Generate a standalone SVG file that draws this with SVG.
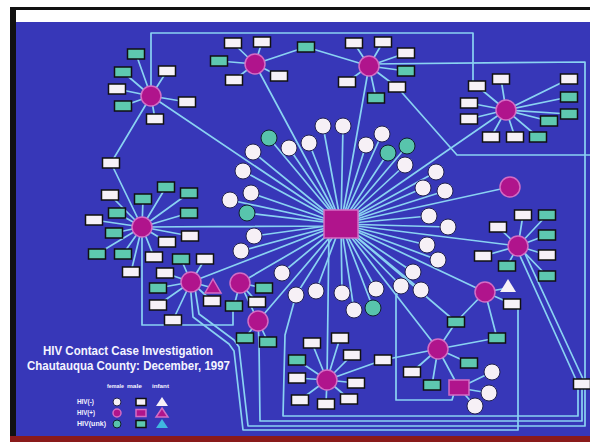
<svg xmlns="http://www.w3.org/2000/svg" width="590" height="442" viewBox="0 0 590 442">
<style>
.ln{fill:none;stroke:#8ad2f2;stroke-width:1.7;stroke-linejoin:round}
.w{fill:#f6f1f7;stroke:#111;stroke-width:1.5}
.t{fill:#5ec8b0;stroke:#111;stroke-width:1.5}
.cw{fill:#f6f0f6;stroke:#222250;stroke-width:1}
.ct{fill:#58c4ac;stroke:#102030;stroke-width:1}
.h{fill:#b0148c;stroke:#d46cc4;stroke-width:1.5}
.tx{font-family:"Liberation Sans",Arial,sans-serif;font-weight:bold;fill:#f4f4ff}
</style>
<defs>
<rect id="R" x="-8.5" y="-5" width="17" height="10"/>
<circle id="C" r="8"/>
<circle id="Hc" r="10"/>
</defs>
<rect x="0" y="0" width="590" height="442" fill="#fff"/>
<rect x="10" y="7" width="580" height="3" fill="#111"/>
<rect x="10" y="7" width="6" height="435" fill="#111"/>
<rect x="16" y="22" width="574" height="414" fill="#3737b8"/>
<rect x="10" y="436" width="580" height="6" fill="#8a1a1a"/>
<g id="connectors" class="ln">
<path d="M341,224L269,138M341,224L253,152M341,224L289,148M341,224L309,143M341,224L323,126M341,224L343,126M341,224L366,145M341,224L382,134M341,224L388,153M341,224L407,146M341,224L405,165M341,224L436,172M341,224L423,188M341,224L445,191M341,224L243,171M341,224L251,193M341,224L230,200M341,224L247,213M341,224L254,236M341,224L241,251M341,224L429,216M341,224L448,227M341,224L427,245M341,224L438,260M341,224L413,272M341,224L282,273M341,224L401,286M341,224L421,290M341,224L376,289M341,224L316,291M341,224L342,293M341,224L296,295M341,224L354,310M341,224L373,308"/>
<path d="M341,224L151,96M341,224L255,64M341,224L369,66M341,224L506,110M341,224L510,187M341,226L142,227M341,224L518,246M341,224L191,282M341,224L240,283M341,224L258,321M341,224L485,292M341,224L438,349M341,224L456,322M329,230L327,380"/>
<path d="M151,96L136,54M151,96L123,72M151,96L117,89M151,96L123,106M151,96L167,71M151,96L187,102M151,96L155,119M151,96L111,163M111,163L142,227"/>
<path d="M255,64L233,43M255,64L262,42M255,64L219,61M255,64L234,80M255,64L279,76M255,64L306,47M306,47L369,66"/>
<path d="M369,66L354,43M369,66L383,42M369,66L406,53M369,66L406,71M369,66L397,87M369,66L376,98M369,66L347,82"/>
<path d="M506,110L477,86M506,110L501,79M506,110L469,103M506,110L469,119M506,110L491,137M506,110L515,137M506,110L538,137M506,110L549,121M506,110L569,79M506,110L569,97M506,110L569,114"/>
<path d="M142,227L110,195M142,227L143,199M142,227L166,187M142,227L189,193M142,227L189,213M142,227L117,213M142,227L94,220M142,227L114,233M142,227L190,236M142,227L167,242M142,227L97,254M142,227L123,254M142,227L154,257M142,227L131,272"/>
<path d="M191,282L181,259M191,282L205,259M191,282L165,273M191,282L158,288M191,282L158,305M191,282L173,320M191,282L212,301M191,282L213,288"/>
<path d="M240,283L264,288M240,283L257,302M240,283L234,306M240,283L258,321M258,321L245,338M258,321L268,342"/>
<path d="M518,246L523,215M518,246L547,215M518,246L498,227M518,246L547,235M518,246L483,256M518,246L547,255M518,246L507,266M518,246L547,276"/>
<path d="M485,292L508,288M485,292L512,304M485,292L456,322M485,292L497,338"/>
<path d="M438,349L456,322M438,349L497,338M438,349L383,360M438,349L412,372M438,349L432,385M438,349L469,363M438,349L459,388M327,380L383,360"/>
<path d="M327,380L312,343M327,380L340,338M327,380L352,355M327,380L297,360M327,380L297,378M327,380L356,383M327,380L349,399M327,380L326,404M327,380L300,400"/>
<path d="M459,388L492,372M459,388L489,393M459,388L475,406"/>
<path d="M151,96L151,33L473,33L473,86"/>
<path d="M369,64L585,62L585,426L248,426L239,347L234,340L199,314L194,282"/>
<path d="M397,87L457,155L590,155"/>
<path d="M296,295L285,335L283,416L578,416L578,389"/>
<path d="M258,321L259,343L260,421L582,421L582,389"/>
<path d="M190,282L193,317L229,344L234,351L243,430L518,430L518,304"/>
<path d="M142,227L142,325L233,325L233,306"/>
<path d="M401,286L396,296L396,400L452,400L455,390"/>
<path d="M516,247L578,384M521,245L584,381"/>
</g>
<g id="center"><rect x="324" y="210" width="34" height="28" class="h" stroke-width="1"/></g>
<g id="c1"><use href="#C" class="ct" x="269" y="138"/></g>
<g id="c2"><use href="#C" class="cw" x="253" y="152"/></g>
<g id="c3"><use href="#C" class="cw" x="289" y="148"/></g>
<g id="c4"><use href="#C" class="cw" x="309" y="143"/></g>
<g id="c5"><use href="#C" class="cw" x="323" y="126"/></g>
<g id="c6"><use href="#C" class="cw" x="343" y="126"/></g>
<g id="c7"><use href="#C" class="cw" x="366" y="145"/></g>
<g id="c8"><use href="#C" class="cw" x="382" y="134"/></g>
<g id="c9"><use href="#C" class="ct" x="388" y="153"/></g>
<g id="c10"><use href="#C" class="ct" x="407" y="146"/></g>
<g id="c11"><use href="#C" class="cw" x="405" y="165"/></g>
<g id="c12"><use href="#C" class="cw" x="436" y="172"/></g>
<g id="c13"><use href="#C" class="cw" x="423" y="188"/></g>
<g id="c14"><use href="#C" class="cw" x="445" y="191"/></g>
<g id="c15"><use href="#C" class="cw" x="243" y="171"/></g>
<g id="c16"><use href="#C" class="cw" x="251" y="193"/></g>
<g id="c17"><use href="#C" class="cw" x="230" y="200"/></g>
<g id="c18"><use href="#C" class="ct" x="247" y="213"/></g>
<g id="c19"><use href="#C" class="cw" x="254" y="236"/></g>
<g id="c20"><use href="#C" class="cw" x="241" y="251"/></g>
<g id="c21"><use href="#C" class="cw" x="429" y="216"/></g>
<g id="c22"><use href="#C" class="cw" x="448" y="227"/></g>
<g id="c23"><use href="#C" class="cw" x="427" y="245"/></g>
<g id="c24"><use href="#C" class="cw" x="438" y="260"/></g>
<g id="c25"><use href="#C" class="cw" x="413" y="272"/></g>
<g id="c26"><use href="#C" class="cw" x="282" y="273"/></g>
<g id="c27"><use href="#C" class="cw" x="401" y="286"/></g>
<g id="c28"><use href="#C" class="cw" x="421" y="290"/></g>
<g id="c29"><use href="#C" class="cw" x="376" y="289"/></g>
<g id="c30"><use href="#C" class="cw" x="316" y="291"/></g>
<g id="c31"><use href="#C" class="cw" x="342" y="293"/></g>
<g id="c32"><use href="#C" class="cw" x="296" y="295"/></g>
<g id="c33"><use href="#C" class="cw" x="354" y="310"/></g>
<g id="c34"><use href="#C" class="ct" x="373" y="308"/></g>
<g id="c35"><use href="#C" class="cw" x="492" y="372"/></g>
<g id="c36"><use href="#C" class="cw" x="489" y="393"/></g>
<g id="c37"><use href="#C" class="cw" x="475" y="406"/></g>
<g id="h1"><use href="#Hc" class="h" x="151" y="96"/></g>
<g id="h2"><use href="#Hc" class="h" x="255" y="64"/></g>
<g id="h3"><use href="#Hc" class="h" x="369" y="66"/></g>
<g id="h4"><use href="#Hc" class="h" x="506" y="110"/></g>
<g id="h5"><use href="#Hc" class="h" x="510" y="187"/></g>
<g id="h6"><use href="#Hc" class="h" x="142" y="227"/></g>
<g id="h7"><use href="#Hc" class="h" x="518" y="246"/></g>
<g id="h8"><use href="#Hc" class="h" x="191" y="282"/></g>
<g id="h9"><use href="#Hc" class="h" x="240" y="283"/></g>
<g id="h10"><use href="#Hc" class="h" x="258" y="321"/></g>
<g id="h11"><use href="#Hc" class="h" x="485" y="292"/></g>
<g id="h12"><use href="#Hc" class="h" x="438" y="349"/></g>
<g id="h13"><use href="#Hc" class="h" x="327" y="380"/></g>
<g id="h14"><rect x="449" y="380" width="20" height="15" class="h"/></g>
<g id="tri1"><polygon points="213,279 221,293 205,293" class="h"/></g>
<g id="tri2"><polygon points="508,279 516,292 500,292" fill="#f6f1f7"/></g>
<g id="r1"><use href="#R" class="t" x="136" y="54"/></g>
<g id="r2"><use href="#R" class="t" x="123" y="72"/></g>
<g id="r3"><use href="#R" class="w" x="117" y="89"/></g>
<g id="r4"><use href="#R" class="t" x="123" y="106"/></g>
<g id="r5"><use href="#R" class="w" x="167" y="71"/></g>
<g id="r6"><use href="#R" class="w" x="187" y="102"/></g>
<g id="r7"><use href="#R" class="w" x="155" y="119"/></g>
<g id="r8"><use href="#R" class="w" x="111" y="163"/></g>
<g id="r9"><use href="#R" class="w" x="233" y="43"/></g>
<g id="r10"><use href="#R" class="w" x="262" y="42"/></g>
<g id="r11"><use href="#R" class="t" x="219" y="61"/></g>
<g id="r12"><use href="#R" class="w" x="234" y="80"/></g>
<g id="r13"><use href="#R" class="w" x="279" y="76"/></g>
<g id="r14"><use href="#R" class="t" x="306" y="47"/></g>
<g id="r15"><use href="#R" class="w" x="354" y="43"/></g>
<g id="r16"><use href="#R" class="w" x="383" y="42"/></g>
<g id="r17"><use href="#R" class="w" x="406" y="53"/></g>
<g id="r18"><use href="#R" class="t" x="406" y="71"/></g>
<g id="r19"><use href="#R" class="w" x="397" y="87"/></g>
<g id="r20"><use href="#R" class="t" x="376" y="98"/></g>
<g id="r21"><use href="#R" class="w" x="347" y="82"/></g>
<g id="r22"><use href="#R" class="w" x="477" y="86"/></g>
<g id="r23"><use href="#R" class="w" x="501" y="79"/></g>
<g id="r24"><use href="#R" class="w" x="469" y="103"/></g>
<g id="r25"><use href="#R" class="w" x="469" y="119"/></g>
<g id="r26"><use href="#R" class="w" x="491" y="137"/></g>
<g id="r27"><use href="#R" class="w" x="515" y="137"/></g>
<g id="r28"><use href="#R" class="t" x="538" y="137"/></g>
<g id="r29"><use href="#R" class="t" x="549" y="121"/></g>
<g id="r30"><use href="#R" class="w" x="569" y="79"/></g>
<g id="r31"><use href="#R" class="t" x="569" y="97"/></g>
<g id="r32"><use href="#R" class="t" x="569" y="114"/></g>
<g id="r33"><use href="#R" class="w" x="110" y="195"/></g>
<g id="r34"><use href="#R" class="t" x="143" y="199"/></g>
<g id="r35"><use href="#R" class="t" x="166" y="187"/></g>
<g id="r36"><use href="#R" class="t" x="189" y="193"/></g>
<g id="r37"><use href="#R" class="t" x="189" y="213"/></g>
<g id="r38"><use href="#R" class="t" x="117" y="213"/></g>
<g id="r39"><use href="#R" class="w" x="94" y="220"/></g>
<g id="r40"><use href="#R" class="t" x="114" y="233"/></g>
<g id="r41"><use href="#R" class="w" x="190" y="236"/></g>
<g id="r42"><use href="#R" class="w" x="167" y="242"/></g>
<g id="r43"><use href="#R" class="t" x="97" y="254"/></g>
<g id="r44"><use href="#R" class="t" x="123" y="254"/></g>
<g id="r45"><use href="#R" class="w" x="154" y="257"/></g>
<g id="r46"><use href="#R" class="w" x="131" y="272"/></g>
<g id="r47"><use href="#R" class="t" x="181" y="259"/></g>
<g id="r48"><use href="#R" class="w" x="205" y="259"/></g>
<g id="r49"><use href="#R" class="w" x="165" y="273"/></g>
<g id="r50"><use href="#R" class="t" x="158" y="288"/></g>
<g id="r51"><use href="#R" class="w" x="158" y="305"/></g>
<g id="r52"><use href="#R" class="w" x="173" y="320"/></g>
<g id="r53"><use href="#R" class="w" x="212" y="301"/></g>
<g id="r54"><use href="#R" class="t" x="234" y="306"/></g>
<g id="r55"><use href="#R" class="w" x="257" y="302"/></g>
<g id="r56"><use href="#R" class="t" x="264" y="288"/></g>
<g id="r57"><use href="#R" class="t" x="245" y="338"/></g>
<g id="r58"><use href="#R" class="t" x="268" y="342"/></g>
<g id="r59"><use href="#R" class="w" x="523" y="215"/></g>
<g id="r60"><use href="#R" class="t" x="547" y="215"/></g>
<g id="r61"><use href="#R" class="w" x="498" y="227"/></g>
<g id="r62"><use href="#R" class="t" x="547" y="235"/></g>
<g id="r63"><use href="#R" class="w" x="483" y="256"/></g>
<g id="r64"><use href="#R" class="w" x="547" y="255"/></g>
<g id="r65"><use href="#R" class="t" x="507" y="266"/></g>
<g id="r66"><use href="#R" class="t" x="547" y="276"/></g>
<g id="r67"><use href="#R" class="w" x="512" y="304"/></g>
<g id="r68"><use href="#R" class="t" x="456" y="322"/></g>
<g id="r69"><use href="#R" class="t" x="497" y="338"/></g>
<g id="r70"><use href="#R" class="w" x="383" y="360"/></g>
<g id="r71"><use href="#R" class="w" x="412" y="372"/></g>
<g id="r72"><use href="#R" class="t" x="432" y="385"/></g>
<g id="r73"><use href="#R" class="t" x="469" y="363"/></g>
<g id="r74"><use href="#R" class="w" x="312" y="343"/></g>
<g id="r75"><use href="#R" class="w" x="340" y="338"/></g>
<g id="r76"><use href="#R" class="w" x="352" y="355"/></g>
<g id="r77"><use href="#R" class="t" x="297" y="360"/></g>
<g id="r78"><use href="#R" class="w" x="297" y="378"/></g>
<g id="r79"><use href="#R" class="w" x="356" y="383"/></g>
<g id="r80"><use href="#R" class="w" x="349" y="399"/></g>
<g id="r81"><use href="#R" class="w" x="326" y="404"/></g>
<g id="r82"><use href="#R" class="w" x="300" y="400"/></g>
<g id="r83"><use href="#R" class="w" x="582" y="384"/></g>
<g id="title">
<text class="tx" x="43" y="355" font-size="13.5" textLength="170" lengthAdjust="spacingAndGlyphs">HIV Contact Case Investigation</text>
<text class="tx" x="27" y="370" font-size="13.5" textLength="203" lengthAdjust="spacingAndGlyphs">Chautauqua County: December, 1997</text>
</g>
<g id="legend">
<text class="tx" x="107" y="388" font-size="6" textLength="17" lengthAdjust="spacingAndGlyphs">female</text>
<text class="tx" x="127" y="388" font-size="6" textLength="15" lengthAdjust="spacingAndGlyphs">male</text>
<text class="tx" x="152" y="388" font-size="6" textLength="17" lengthAdjust="spacingAndGlyphs">infant</text>
<text class="tx" x="77" y="404" font-size="6.5" textLength="17" lengthAdjust="spacingAndGlyphs">HIV(-)</text>
<text class="tx" x="77" y="415" font-size="6.5" textLength="18" lengthAdjust="spacingAndGlyphs">HIV(+)</text>
<text class="tx" x="77" y="426" font-size="6.5" textLength="29" lengthAdjust="spacingAndGlyphs">HIV(unk)</text>
<circle cx="117" cy="402" r="4" class="cw"/>
<circle cx="117" cy="413" r="4" class="h" stroke-width="1"/>
<circle cx="117" cy="424" r="4" class="ct"/>
<rect x="136" y="398.5" width="10" height="7" class="w" stroke-width="1.2"/>
<rect x="136" y="409.5" width="10" height="7" class="h" stroke="#111" stroke-width="1.2"/>
<rect x="136" y="420.5" width="10" height="7" class="t" stroke-width="1.2"/>
<polygon points="162,397 168,406 156,406" fill="#f6f1f7"/>
<polygon points="162,408 168,417 156,417" class="h" stroke-width="0.8"/>
<polygon points="162,419 168,428 156,428" fill="#40b8e0"/>
</g>
</svg>
